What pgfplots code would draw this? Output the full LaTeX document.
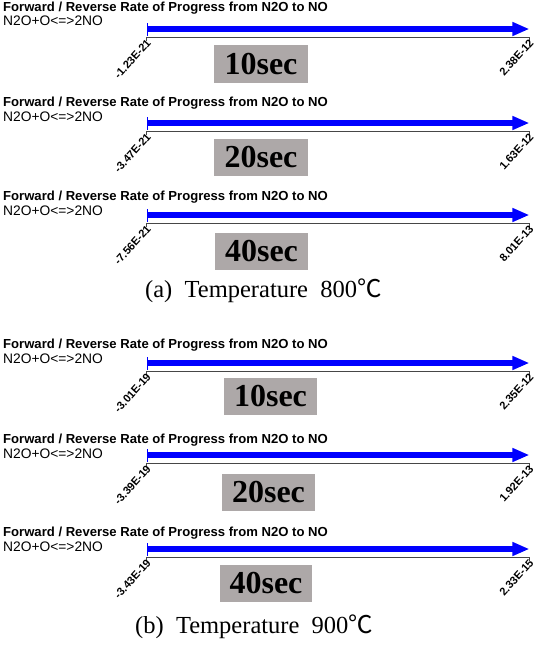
\documentclass[border=0pt]{standalone}
\usepackage{pgfplots}
\pgfplotsset{compat=1.18}
\usetikzlibrary{arrows.meta}
\usepackage{fontspec}
\setmainfont{Liberation Serif}
\newfontfamily\sansf{Liberation Sans}
\newfontfamily\cjk{Noto Sans CJK KR}
\definecolor{boxgray}{RGB}{173,168,168}
\definecolor{axgray}{RGB}{70,70,70}

\newcommand{\panel}[5]{%
\begin{axis}[
  at={(146.7pt,-#1pt)}, anchor=south west,
  scale only axis, width=382.7pt, height=16pt,
  xmin=#2, xmax=#3, ymin=0, ymax=2,
  axis y line=none, axis x line*=bottom,
  x axis line style={-, axgray, line width=0.9pt},
  xtick={#2,#3}, xticklabels={#4,#5},
  scaled x ticks=false,
  tick align=outside, major tick length=4pt,
  xtick style={axgray, line width=0.9pt},
  xticklabel style={rotate=48, anchor=east, inner sep=1pt, xshift=2.5pt, yshift=-1.5pt,
    font=\sansf\bfseries\fontsize{11}{11}\selectfont},
  clip=false, ytick=\empty,
]
\addplot[blue, line width=5.5pt, mark=none,
  arrows={Bar[width=13pt,line width=1pt]-Triangle[width=13pt,length=17pt]}]
  coordinates {(#2,1) (#3,1)};
\end{axis}}

\newcommand{\heads}[2]{%
\node[anchor=west, inner sep=0pt, font=\sansf\bfseries\fontsize{13.1}{13}\selectfont] at (3pt,-#1pt) {Forward / Reverse Rate of Progress from N2O to NO};
\node[anchor=west, inner sep=0pt, font=\sansf\fontsize{13.8}{13}\selectfont] at (3pt,-#2pt) {N2O+O<=>2NO};
}

\newcommand{\secbox}[5]{% x1 y1 x2 y2 text
\fill[boxgray] (#1pt,-#2pt) rectangle (#3pt,-#4pt);
\node[font=\bfseries\fontsize{32}{32}\selectfont, inner sep=0pt] at ({(#1+#3)/2*1pt},{-(#2+#4)/2*1pt}) {#5};
}

\begin{document}
\begin{tikzpicture}[x=1pt,y=1pt]
\useasboundingbox (0,0) rectangle (536,-646);
% (a)
\heads{8}{21}
\panel{37}{-1.23e-21}{2.38e-12}{-1.23E-21}{2.38E-12}
\secbox{214}{45}{308}{83}{10sec}
\heads{103}{117}
\panel{131}{-3.47e-21}{1.63e-12}{-3.47E-21}{1.63E-12}
\secbox{214}{139}{308}{176}{20sec}
\heads{197}{211}
\panel{223}{-7.56e-21}{8.01e-13}{-7.56E-21}{8.01E-13}
\secbox{215}{233}{308}{270}{40sec}
\node[anchor=west, inner sep=0pt, font=\fontsize{24.5}{24.5}\selectfont] at (145,-291) {(a)\ \ Temperature\ \ 800{\cjk ℃}};
% (b)
\heads{345}{359}
\panel{371}{-3.01e-19}{2.35e-12}{-3.01E-19}{2.35E-12}
\secbox{224}{378}{317}{415}{10sec}
\heads{440}{454}
\panel{463}{-3.39e-19}{1.92e-13}{-3.39E-19}{1.92E-13}
\secbox{222}{474}{315}{511}{20sec}
\heads{533}{547}
\panel{557}{-3.43e-19}{2.33e-15}{-3.43E-19}{2.33E-15}
\secbox{220}{565}{312}{602}{40sec}
\node[anchor=west, inner sep=0pt, font=\fontsize{24.5}{24.5}\selectfont] at (135,-627) {(b)\ \ Temperature\ \ 900{\cjk ℃}};
\end{tikzpicture}
\end{document}
